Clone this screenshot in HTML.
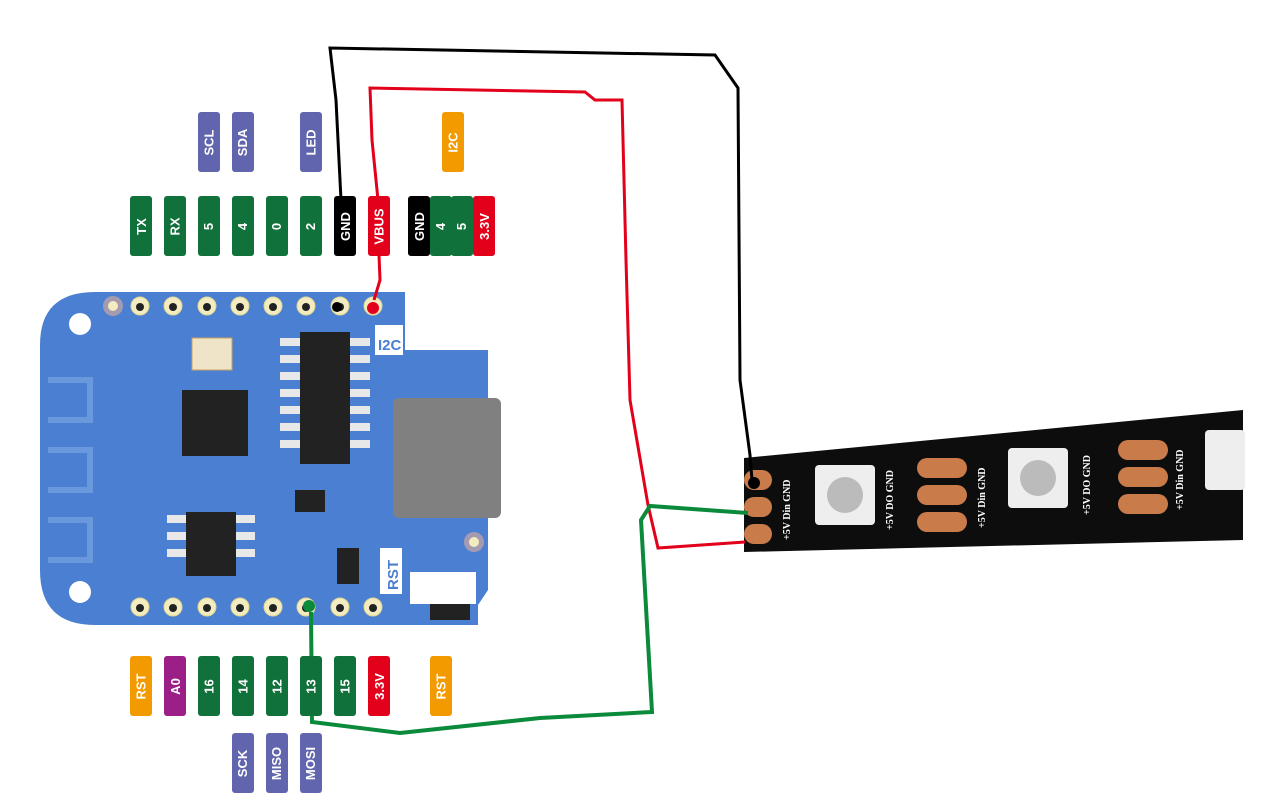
<!DOCTYPE html>
<html><head><meta charset="utf-8"><style>
body{margin:0;background:#fff;width:1264px;height:810px;overflow:hidden;position:relative;font-family:"Liberation Sans",sans-serif}
.l{position:absolute;width:22px;height:60px;border-radius:3px;color:#fff;font-weight:bold;font-size:13px;display:flex;align-items:center;justify-content:center}
.l span{transform:rotate(-90deg);white-space:nowrap}
.g{background:#11713a}.p{background:#6165ad}.o{background:#f39a00}.k{background:#000}.r{background:#e3001b}.m{background:#9b1f86}
</style></head><body>
<svg width="1264" height="810" style="position:absolute;left:0;top:0">
<!-- strip -->
<polygon points="744,458 1243,410 1243,540 744,552" fill="#0d0d0d"/>
<g fill="#c97b4a">
<rect x="744" y="470" width="28" height="20" rx="10"/><rect x="744" y="497" width="28" height="20" rx="10"/><rect x="744" y="524" width="28" height="20" rx="10"/>
<rect x="917" y="458" width="50" height="20" rx="10"/><rect x="917" y="485" width="50" height="20" rx="10"/><rect x="917" y="512" width="50" height="20" rx="10"/>
<rect x="1118" y="440" width="50" height="20" rx="10"/><rect x="1118" y="467" width="50" height="20" rx="10"/><rect x="1118" y="494" width="50" height="20" rx="10"/>
</g>
<g fill="#eee"><rect x="815" y="465" width="60" height="60" rx="4"/><rect x="1008" y="448" width="60" height="60" rx="4"/><rect x="1205" y="430" width="40" height="60" rx="4"/></g>
<g fill="#bbb"><circle cx="845" cy="495" r="18"/><circle cx="1038" cy="478" r="18"/></g>
<g fill="#fff" font-size="10" font-family="Liberation Serif" font-weight="bold">
<text transform="translate(790,540) rotate(-90)">+5V Din GND</text>
<text transform="translate(893,530) rotate(-90)">+5V DO GND</text>
<text transform="translate(985,528) rotate(-90)">+5V Din GND</text>
<text transform="translate(1090,515) rotate(-90)">+5V DO GND</text>
<text transform="translate(1183,510) rotate(-90)">+5V Din GND</text>
</g>
<!-- board -->
<path d="M95,292 L405,292 L405,350 L488,350 L488,590 L478,605 L478,625 L95,625 Q40,625 40,570 L40,345 Q40,292 95,292 Z" fill="#4a7fd2"/>
<g fill="none" stroke="#6a98dc" stroke-width="6"><path d="M48,380 H90 V420 H48 M48,450 H90 V490 H48 M48,520 H90 V560 H48"/></g>
<circle cx="80" cy="324" r="11" fill="#fff"/><circle cx="80" cy="592" r="11" fill="#fff"/>
<circle cx="113" cy="306" r="10" fill="#a59bb0"/><circle cx="113" cy="306" r="5" fill="#f3ecc0"/>
<circle cx="474" cy="542" r="10" fill="#a59bb0"/><circle cx="474" cy="542" r="5" fill="#f3ecc0"/>
<g fill="#f3ecc0" stroke="#e0d590" stroke-width="1">
<circle cx="140" cy="306" r="9"/><circle cx="173" cy="306" r="9"/><circle cx="207" cy="306" r="9"/><circle cx="240" cy="306" r="9"/><circle cx="273" cy="306" r="9"/><circle cx="306" cy="306" r="9"/><circle cx="340" cy="306" r="9"/><circle cx="373" cy="306" r="9"/>
<circle cx="140" cy="607" r="9"/><circle cx="173" cy="607" r="9"/><circle cx="207" cy="607" r="9"/><circle cx="240" cy="607" r="9"/><circle cx="273" cy="607" r="9"/><circle cx="306" cy="607" r="9"/><circle cx="340" cy="607" r="9"/><circle cx="373" cy="607" r="9"/>
</g>
<g fill="#222"><circle cx="140" cy="307" r="4"/><circle cx="173" cy="307" r="4"/><circle cx="207" cy="307" r="4"/><circle cx="240" cy="307" r="4"/><circle cx="273" cy="307" r="4"/><circle cx="306" cy="307" r="4"/><circle cx="340" cy="307" r="4"/><circle cx="373" cy="307" r="4"/>
<circle cx="140" cy="608" r="4"/><circle cx="173" cy="608" r="4"/><circle cx="207" cy="608" r="4"/><circle cx="240" cy="608" r="4"/><circle cx="273" cy="608" r="4"/><circle cx="306" cy="608" r="4"/><circle cx="340" cy="608" r="4"/><circle cx="373" cy="608" r="4"/></g>
<rect x="192" y="338" width="40" height="32" fill="#efe3c8" stroke="#c8a060"/>
<rect x="182" y="390" width="66" height="66" fill="#222"/>
<rect x="300" y="332" width="50" height="132" fill="#222"/>
<g fill="#e8e8e8"><rect x="280" y="338" width="20" height="8"/><rect x="280" y="355" width="20" height="8"/><rect x="280" y="372" width="20" height="8"/><rect x="280" y="389" width="20" height="8"/><rect x="280" y="406" width="20" height="8"/><rect x="280" y="423" width="20" height="8"/><rect x="280" y="440" width="20" height="8"/><rect x="350" y="338" width="20" height="8"/><rect x="350" y="355" width="20" height="8"/><rect x="350" y="372" width="20" height="8"/><rect x="350" y="389" width="20" height="8"/><rect x="350" y="406" width="20" height="8"/><rect x="350" y="423" width="20" height="8"/><rect x="350" y="440" width="20" height="8"/>
<rect x="167" y="515" width="20" height="8"/><rect x="167" y="532" width="20" height="8"/><rect x="167" y="549" width="20" height="8"/><rect x="235" y="515" width="20" height="8"/><rect x="235" y="532" width="20" height="8"/><rect x="235" y="549" width="20" height="8"/></g>
<rect x="186" y="512" width="50" height="64" fill="#222"/>
<rect x="295" y="490" width="30" height="22" fill="#222"/>
<rect x="337" y="548" width="22" height="36" fill="#222"/>
<rect x="393" y="398" width="108" height="120" rx="6" fill="#808080"/>
<rect x="410" y="572" width="66" height="32" fill="#fff"/>
<rect x="430" y="604" width="40" height="16" fill="#222"/>
<rect x="375" y="325" width="28" height="30" fill="#fff"/>
<text x="378" y="350" fill="#4a7fd2" font-size="15" font-weight="bold">I2C</text>
<rect x="380" y="548" width="22" height="46" fill="#fff"/>
<text transform="translate(398,590) rotate(-90)" fill="#4a7fd2" font-size="15" font-weight="bold">RST</text>
<!-- wires -->
<path d="M341,200 L336,100 L330,48 L715,55 L738,88 L740,380 L750,455 L752,480" fill="none" stroke="#000" stroke-width="3"/>
<circle cx="754" cy="483" r="6" fill="#000"/>
<path d="M378,200 L372,140 L370,88 L585,92 L595,100 L622,100 L626,260 L630,400 L648,505 L658,548 L745,542" fill="none" stroke="#e3001b" stroke-width="3"/>
<path d="M379,255 L380,280 L374,300" fill="none" stroke="#e3001b" stroke-width="3"/>
<circle cx="373" cy="308" r="6" fill="#e3001b"/>
<path d="M748,513 L650,506 L641,520 L652,712 L540,718 L400,733 L312,722 L311,612" fill="none" stroke="#0a8a3a" stroke-width="4"/>
<circle cx="309" cy="606" r="6" fill="#0a8a3a"/>
<circle cx="337" cy="307" r="5" fill="#000"/>
</svg>
<div class="l p" style="left:198px;top:112px"><span>SCL</span></div>
<div class="l p" style="left:232px;top:112px"><span>SDA</span></div>
<div class="l p" style="left:300px;top:112px"><span>LED</span></div>
<div class="l o" style="left:442px;top:112px"><span>I2C</span></div>
<div class="l g" style="left:130px;top:196px"><span>TX</span></div>
<div class="l g" style="left:164px;top:196px"><span>RX</span></div>
<div class="l g" style="left:198px;top:196px"><span>5</span></div>
<div class="l g" style="left:232px;top:196px"><span>4</span></div>
<div class="l g" style="left:266px;top:196px"><span>0</span></div>
<div class="l g" style="left:300px;top:196px"><span>2</span></div>
<div class="l k" style="left:334px;top:196px"><span>GND</span></div>
<div class="l r" style="left:368px;top:196px"><span>VBUS</span></div>
<div class="l k" style="left:408px;top:196px"><span>GND</span></div>
<div class="l g" style="left:430px;top:196px"><span>4</span></div>
<div class="l g" style="left:451px;top:196px"><span>5</span></div>
<div class="l r" style="left:473px;top:196px"><span>3.3V</span></div>
<div class="l o" style="left:130px;top:656px"><span>RST</span></div>
<div class="l m" style="left:164px;top:656px"><span>A0</span></div>
<div class="l g" style="left:198px;top:656px"><span>16</span></div>
<div class="l g" style="left:232px;top:656px"><span>14</span></div>
<div class="l g" style="left:266px;top:656px"><span>12</span></div>
<div class="l g" style="left:300px;top:656px"><span>13</span></div>
<div class="l g" style="left:334px;top:656px"><span>15</span></div>
<div class="l r" style="left:368px;top:656px"><span>3.3V</span></div>
<div class="l o" style="left:430px;top:656px"><span>RST</span></div>
<div class="l p" style="left:232px;top:733px"><span>SCK</span></div>
<div class="l p" style="left:266px;top:733px"><span>MISO</span></div>
<div class="l p" style="left:300px;top:733px"><span>MOSI</span></div>
</body></html>
